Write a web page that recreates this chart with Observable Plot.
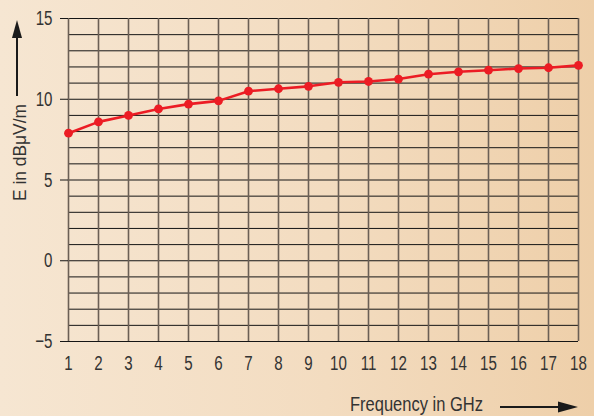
<!DOCTYPE html>
<html>
<head>
<meta charset="utf-8">
<script src="https://cdn.jsdelivr.net/npm/d3@7"></script>
<script src="https://cdn.jsdelivr.net/npm/@observablehq/plot@0.6"></script>
<style>
  html, body { margin: 0; padding: 0; }
  #wrap {
    position: relative; width: 594px; height: 416px; overflow: hidden;
    background: linear-gradient(90deg, #f6e6d2 0%, #f3dcc0 55%, #eecfa9 100%);
    font-family: "Liberation Sans", Arial, sans-serif;
  }
  #wrap svg.plot { position: absolute; left: 0; top: 0; background: transparent; }
  #overlay { position: absolute; left: 0; top: 0; }
</style>
</head>
<body>
<div id="wrap"></div>
<script>
// Data
const freq = [1, 2, 3, 4, 5, 6, 7, 8, 9, 10, 11, 12, 13, 14, 15, 16, 17, 18];
const level = [7.9, 8.6, 9.0, 9.4, 9.7, 9.9, 10.5, 10.65, 10.8, 11.05, 11.1, 11.25, 11.55, 11.7, 11.8, 11.9, 11.95, 12.1];
const yTicks = [-5, 0, 5, 10, 15];
const yGrid = [-5, -4, -3, -2, -1, 0, 1, 2, 3, 4, 5, 6, 7, 8, 9, 10, 11, 12, 13, 14, 15];
const xTitle = "Frequency in GHz";
const yTitle = "E in dBμV/m";

const data = freq.map((f, i) => ({f, v: level[i]}));
const font = '"Liberation Sans", Arial, sans-serif';
const squeeze = 0.72;

const chart = Plot.plot({
  width: 594,
  height: 416,
  marginLeft: 68,
  marginRight: 16,
  marginTop: 18,
  marginBottom: 75,
  style: {background: "transparent", fontFamily: font, fontSize: "21px", color: "#333"},
  x: {domain: [1, 18]},
  y: {domain: [-5, 15]},
  marks: [
    Plot.ruleY(yGrid, {stroke: "#151515", strokeWidth: 1}),
    Plot.ruleX(freq, {stroke: "#6b5f55", strokeWidth: 1.6}),
    Plot.axisY(yTicks, {tickSize: 8, tickPadding: 8, fontSize: 21, stroke: "#151515", strokeOpacity: 1, label: null, fill: "#333"}),
    Plot.axisX(freq, {tickSize: 0, tickPadding: 14, fontSize: 21, label: null, fill: "#333"}),
    Plot.line(data, {x: "f", y: "v", stroke: "#ec1c24", strokeWidth: 2.6}),
    Plot.dot(data, {x: "f", y: "v", fill: "#ec1c24", r: 4.4})
  ]
});
chart.classList.add("plot");
document.getElementById("wrap").appendChild(chart);

// Condense tick label glyphs horizontally (narrow typeface look)
d3.select(chart).selectAll("g[aria-label$='tick label']").each(function() {
  this.setAttribute("font-size", 21);
  this.style.fontSize = "21px";
});
d3.select(chart).selectAll("g[aria-label$='tick label'] text").each(function() {
  this.style.fontSize = "21px";
  const t = this.getAttribute("transform") || "";
  this.setAttribute("transform", t + ` scale(${squeeze},1)`);
  const x = this.getAttribute("x");
  if (x) this.setAttribute("x", +x / squeeze);
});

// Axis titles and arrows (decoration)
const ov = d3.select("#wrap").append("svg")
  .attr("id", "overlay").attr("width", 594).attr("height", 416);
ov.append("text")
  .attr("transform", "translate(26,201) rotate(-90)")
  .attr("font-family", font).attr("font-size", 18.5).attr("fill", "#333")
  .attr("textLength", 97).attr("lengthAdjust", "spacingAndGlyphs")
  .text(yTitle);
ov.append("line").attr("x1", 17).attr("y1", 96).attr("x2", 17).attr("y2", 32)
  .attr("stroke", "#1a1a1a").attr("stroke-width", 2);
ov.append("polygon").attr("points", "17,20 12,38 22,38").attr("fill", "#1a1a1a");
ov.append("text")
  .attr("x", 350).attr("y", 411)
  .attr("font-family", font).attr("font-size", 19.5).attr("fill", "#333")
  .attr("textLength", 133).attr("lengthAdjust", "spacingAndGlyphs")
  .text(xTitle);
ov.append("line").attr("x1", 500).attr("y1", 407).attr("x2", 562).attr("y2", 407)
  .attr("stroke", "#1a1a1a").attr("stroke-width", 2);
ov.append("polygon").attr("points", "578,407 558,401.5 558,412.5").attr("fill", "#1a1a1a");
</script>
</body>
</html>
